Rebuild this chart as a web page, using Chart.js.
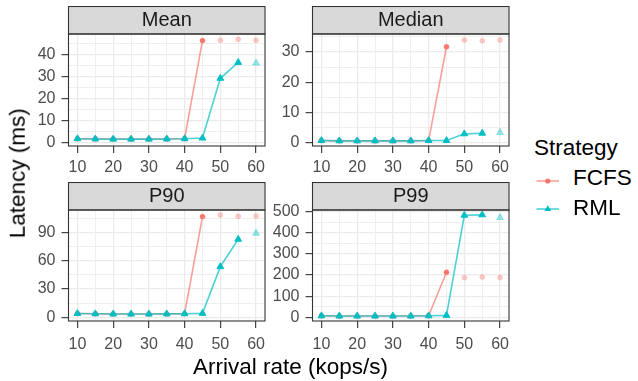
<!DOCTYPE html>
<html>
<head>
<meta charset="utf-8">
<script src="https://cdn.jsdelivr.net/npm/chart.js@4.4.0/dist/chart.umd.min.js"></script>
<style>
  body { margin: 0; background: #fff; width: 638px; height: 381px; position: relative; overflow: hidden;
         font-family: "Liberation Sans", Arial, sans-serif; }
  canvas { position: absolute; }
  .lbl { position: absolute; line-height: 1; color: #000; font-size: 22.5px; white-space: nowrap; }
</style>
</head>
<body>
<canvas id="cMean" width="250" height="172" style="left:20px;top:6px"></canvas>
<canvas id="cMedian" width="250" height="172" style="left:263.5px;top:6px"></canvas>
<canvas id="cP90" width="250" height="176" style="left:20px;top:182px"></canvas>
<canvas id="cP99" width="250" height="176" style="left:263.5px;top:182px"></canvas>

<div class="lbl" style="left:-82px;top:162px;width:200px;text-align:center;transform:rotate(-90deg)">Latency (ms)</div>
<div class="lbl" style="left:90.5px;top:356px;width:400px;text-align:center">Arrival rate (kops/s)</div>

<div class="lbl" style="left:534px;top:136.5px">Strategy</div>
<svg style="position:absolute;left:536px;top:171px" width="24" height="20">
  <line x1="0.5" y1="10" x2="23" y2="10" stroke="rgba(248,118,109,0.7)" stroke-width="1.6"/>
  <circle cx="11.75" cy="10" r="2.6" fill="#F8766D"/>
</svg>
<div class="lbl" style="left:573px;top:167px">FCFS</div>
<svg style="position:absolute;left:536px;top:199.3px" width="24" height="20">
  <line x1="0.5" y1="10" x2="23" y2="10" stroke="rgba(0,191,196,0.7)" stroke-width="1.6"/>
  <polygon points="11.75,6.2 15.1,12 8.4,12" fill="#00BFC4"/>
</svg>
<div class="lbl" style="left:573px;top:197px">RML</div>

<script>
const arrival = [10, 15, 20, 25, 30, 35, 40, 45, 50, 55, 60];
const xMajor = [10, 20, 30, 40, 50, 60];

const meanFCFS = [1.9, 1.8, 1.8, 1.8, 1.8, 1.8, 1.9, 46.4, 46.6, 47.0, 46.6];
const meanRML = [1.9, 1.8, 1.7, 1.7, 1.7, 1.8, 1.9, 2.2, 29.3, 36.5, 36.2];
const medianFCFS = [0.8, 0.7, 0.7, 0.7, 0.7, 0.7, 0.8, 31.7, 33.9, 33.7, 33.9];
const medianRML = [0.8, 0.7, 0.7, 0.7, 0.7, 0.7, 0.8, 0.8, 3.0, 3.2, 3.4];
const p90FCFS = [4.0, 3.7, 3.5, 3.5, 3.5, 3.6, 3.8, 106.6, 108.4, 107.0, 107.3];
const p90RML = [4.0, 3.7, 3.5, 3.5, 3.5, 3.6, 3.8, 4.2, 53.6, 82.6, 89.0];
const p99FCFS = [7, 6, 6, 6, 6, 6, 7, 213, 188, 191, 188];
const p99RML = [7, 6, 6, 6, 6, 6, 7, 9, 483, 485, 472];

// last index that is still part of the line, later points are drawn faded
const fcfsLast = 7;  // 45 kops/s
const rmlLast = 9;   // 55 kops/s

const meanTicks = [0, 10, 20, 30, 40];
const medianTicks = [0, 10, 20, 30];
const p90Ticks = [0, 30, 60, 90];
const p99Ticks = [0, 100, 200, 300, 400, 500];

const FCFS_COL = '#F8766D';
const RML_COL = '#00BFC4';

Chart.defaults.font.family = '"Liberation Sans", Arial, sans-serif';

// majors plus the minor lines half way between them
function gridValues(majors, min, max) {
  const step = (majors[1] - majors[0]) / 2;
  let vals = [];
  for (let v = majors[0] - step; v <= max; v += step) {
    if (v >= min) vals.push(v);
  }
  return vals;
}

const panelFrame = {
  id: 'panelFrame',
  beforeDraw(chart) {
    const t = chart.titleBlock;
    const ctx = chart.ctx;
    ctx.save();
    ctx.fillStyle = '#D9D9D9';
    ctx.fillRect(t.left, t.top, t.width, t.height);
    ctx.restore();
  },
  afterDraw(chart) {
    const t = chart.titleBlock;
    const a = chart.chartArea;
    const ctx = chart.ctx;
    ctx.save();
    ctx.strokeStyle = '#333333';
    ctx.lineWidth = 1.1;
    ctx.strokeRect(t.left, t.top + 0.5, t.width, t.height - 0.5);
    ctx.strokeRect(a.left, a.top, a.width, a.height);
    ctx.restore();
  }
};

function split(values, last) {
  return {
    line: values.map((v, i) => i <= last ? v : null),
    faded: values.map((v, i) => i > last ? v : null)
  };
}

function makePanel(id, title, fcfs, rml, majors, min, max, xHeight, xPad) {
  const f = split(fcfs, fcfsLast);
  const r = split(rml, rmlLast);
  const yGrid = gridValues(majors, min, max);
  const xGrid = gridValues(xMajor, 7.5, 62.5);
  const isMajor = (list, v) => list.includes(v);

  new Chart(document.getElementById(id), {
    type: 'line',
    data: {
      labels: arrival,
      datasets: [
        { label: 'RML', data: r.line, borderColor: 'rgba(0,191,196,0.7)', borderWidth: 1.6,
          pointStyle: 'triangle', pointRadius: 3.9, pointBackgroundColor: RML_COL,
          pointBorderColor: RML_COL, pointBorderWidth: 1, tension: 0 },
        { label: 'FCFS', data: f.line, borderColor: 'rgba(248,118,109,0.7)', borderWidth: 1.6,
          pointStyle: 'circle', pointRadius: 2.5, pointBackgroundColor: FCFS_COL,
          pointBorderColor: FCFS_COL, pointBorderWidth: 0.5, tension: 0 },
        { label: 'RML dropped', data: r.faded, showLine: false,
          pointStyle: 'triangle', pointRadius: 3.9, pointBackgroundColor: 'rgba(0,191,196,0.38)',
          pointBorderColor: 'rgba(0,191,196,0.38)', pointBorderWidth: 1 },
        { label: 'FCFS dropped', data: f.faded, showLine: false,
          pointStyle: 'circle', pointRadius: 2.5, pointBackgroundColor: 'rgba(248,118,109,0.38)',
          pointBorderColor: 'rgba(248,118,109,0.38)', pointBorderWidth: 0.5 }
      ]
    },
    options: {
      responsive: false,
      animation: false,
      layout: { padding: { top: 0, left: 0, right: 1.5, bottom: 0 } },
      plugins: {
        legend: { display: false },
        tooltip: { enabled: false },
        title: {
          display: true, text: title, fullSize: false, color: '#1A1A1A',
          font: { size: 20, lineHeight: 1.2, weight: 'normal' },
          padding: { top: 2, bottom: 2 }
        }
      },
      scales: {
        x: {
          type: 'linear', min: 7.5, max: 62.5,
          afterBuildTicks: s => { s.ticks = xGrid.map(v => ({ value: v })); },
          afterFit: s => { s.height = xHeight; s.paddingLeft = 0; s.paddingRight = 0; },
          ticks: {
            autoSkip: false, maxRotation: 0, color: '#4D4D4D', padding: xPad,
            font: { size: 16 },
            callback: v => isMajor(xMajor, v) ? String(v) : ''
          },
          grid: {
            color: '#EBEBEB',
            lineWidth: c => (c.tick && isMajor(xMajor, c.tick.value)) ? 1.3 : 0.8,
            tickLength: 7, tickWidth: 1.1,
            tickColor: c => (c.tick && isMajor(xMajor, c.tick.value)) ? '#333333' : 'rgba(0,0,0,0)'
          },
          border: { display: false }
        },
        y: {
          type: 'linear', min: min, max: max,
          afterBuildTicks: s => { s.ticks = yGrid.map(v => ({ value: v })); },
          afterFit: s => { s.width = 48.5; s.paddingTop = 0; s.paddingBottom = 0; },
          ticks: {
            autoSkip: false, color: '#4D4D4D', padding: 6,
            font: { size: 16 },
            callback: v => isMajor(majors, v) ? String(v) : ''
          },
          grid: {
            color: '#EBEBEB',
            lineWidth: c => (c.tick && isMajor(majors, c.tick.value)) ? 1.3 : 0.8,
            tickLength: 7, tickWidth: 1.1,
            tickColor: c => (c.tick && isMajor(majors, c.tick.value)) ? '#333333' : 'rgba(0,0,0,0)'
          },
          border: { display: false }
        }
      }
    },
    plugins: [panelFrame]
  });
}

makePanel('cMean', 'Mean', meanFCFS, meanRML, meanTicks, -1.4, 49.4, 32, 4.5);
makePanel('cMedian', 'Median', medianFCFS, medianRML, medianTicks, -1.0, 35.9, 32, 4.5);
makePanel('cP90', 'P90', p90FCFS, p90RML, p90Ticks, -3.9, 113.6, 37, 6.5);
makePanel('cP99', 'P99', p99FCFS, p99RML, p99Ticks, -17.5, 508, 37, 6.5);
</script>
</body>
</html>
